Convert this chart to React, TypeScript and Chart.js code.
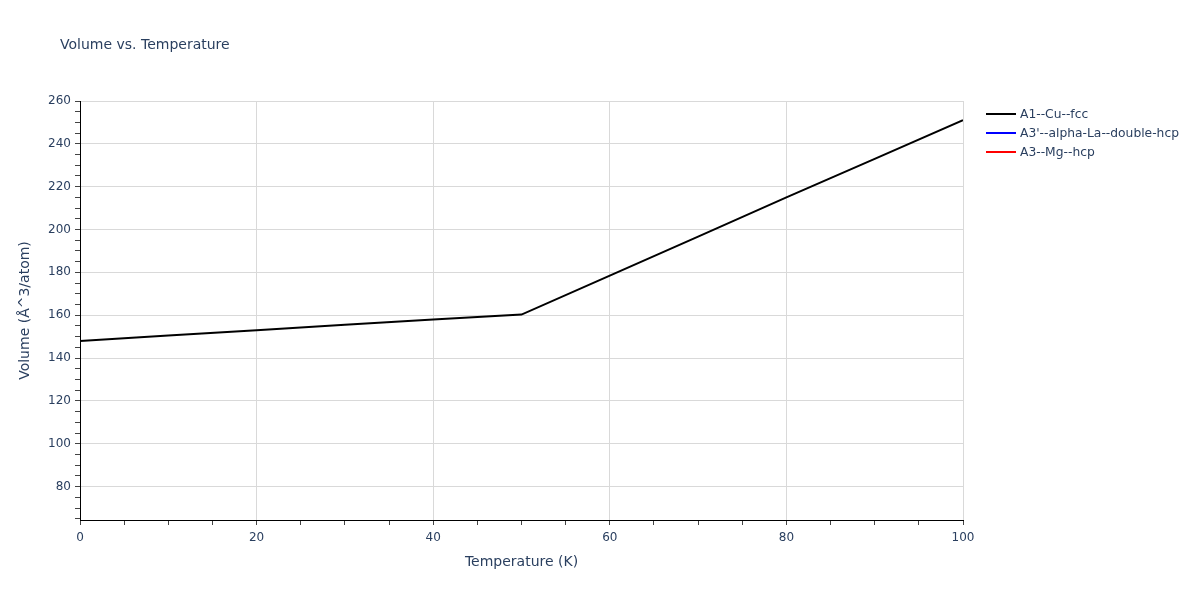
import { useEffect, useRef } from 'react';
import { Chart, registerables, type Scale } from 'chart.js';

Chart.register(...registerables);

// ── Data ─────────────────────────────────────────────────────────────────────

const temperatures = [0, 10, 20, 30, 40, 50, 60, 70, 80, 90, 100];
const cuFcc = [148.0, 150.5, 153.0, 155.5, 158.0, 160.3, 178.5, 196.7, 215.0, 233.0, 251.0];
const laDhcp: number[] = [];
const mgHcp: number[] = [];

const seriesNames = ['A1--Cu--fcc', "A3'--alpha-La--double-hcp", 'A3--Mg--hcp'];
const seriesColors = ['#000000', '#0000ff', '#ff0000'];
const seriesValues = [cuFcc, laDhcp, mgHcp];

const FONT = '"DejaVu Sans", Verdana, sans-serif';
const TEXT = '#2a3f5f';
const GRID = '#d9d9d9';

export default function App() {
  const canvasRef = useRef<HTMLCanvasElement>(null);

  useEffect(() => {
    document.body.style.margin = '0';
    if (!canvasRef.current) return;

    // ticks every 5, only multiples of 20 get a label and a gridline
    const stepTicks = (scale: Scale, from: number, to: number) => {
      const ticks = [];
      for (let v = from; v <= to; v += 5) ticks.push({ value: v });
      scale.ticks = ticks;
    };

    const chart = new Chart(canvasRef.current, {
      type: 'line',
      data: {
        datasets: seriesNames.map((name, i) => ({
          label: name,
          data: seriesValues[i].map((v, j) => ({ x: temperatures[j], y: v })),
          borderColor: seriesColors[i],
          backgroundColor: seriesColors[i],
          borderWidth: 2,
          pointRadius: 0,
          tension: 0,
          fill: false,
        })),
      },
      options: {
        responsive: false,
        animation: false,
        layout: { padding: { top: 101, right: 237, left: 0, bottom: 0 } },
        plugins: { legend: { display: false }, tooltip: { enabled: false } },
        scales: {
          x: {
            type: 'linear',
            min: 0,
            max: 100,
            afterBuildTicks: (s: Scale) => stepTicks(s, 0, 100),
            afterFit: (s: Scale) => { s.height = 80; },
            grid: {
              color: (c: any) => (c.tick.value % 20 === 0 ? GRID : 'rgba(0,0,0,0)'),
              tickColor: '#444',
              tickLength: 5,
            },
            border: { display: true, color: '#000', width: 1 },
            ticks: {
              color: TEXT,
              font: { family: FONT, size: 12 },
              padding: 6,
              maxRotation: 0,
              autoSkip: false,
              callback: (v: any) => (Number(v) % 20 === 0 ? String(v) : ''),
            },
            title: {
              display: true,
              text: 'Temperature (K)',
              color: TEXT,
              font: { family: FONT, size: 14 },
              padding: { top: 0, bottom: 29 },
            },
          },
          y: {
            type: 'linear',
            min: 64.4,
            max: 260,
            afterBuildTicks: (s: Scale) => stepTicks(s, 65, 260),
            afterFit: (s: Scale) => { s.width = 80; },
            grid: {
              color: (c: any) => (c.tick.value % 20 === 0 ? GRID : 'rgba(0,0,0,0)'),
              tickColor: '#444',
              tickLength: 5,
            },
            border: { display: true, color: '#000', width: 1 },
            ticks: {
              color: TEXT,
              font: { family: FONT, size: 12 },
              padding: 4,
              autoSkip: false,
              callback: (v: any) => (Number(v) % 20 === 0 ? String(v) : ''),
            },
            title: {
              display: true,
              text: 'Volume (Å^3/atom)',
              color: TEXT,
              font: { family: FONT, size: 14 },
              padding: { top: 17, bottom: 0 },
            },
          },
        },
      },
    });

    return () => chart.destroy();
  }, []);

  return (
    <div style={{ position: 'relative', width: 1200, height: 600, background: '#fff', fontFamily: FONT }}>
      <canvas ref={canvasRef} width={1200} height={600} style={{ position: 'absolute', left: 0, top: 0 }} />
      <div style={{ position: 'absolute', left: 60, top: 36, fontSize: 14, color: TEXT, whiteSpace: 'nowrap' }}>
        Volume vs. Temperature
      </div>
      {seriesNames.map((name, i) => (
        <div key={name} style={{ position: 'absolute', left: 986, top: 104 + i * 19, height: 19, display: 'flex', alignItems: 'center', whiteSpace: 'nowrap' }}>
          <span style={{ display: 'inline-block', width: 30, height: 2, background: seriesColors[i] }} />
          <span style={{ marginLeft: 4, fontSize: 12.3, color: TEXT }}>{name}</span>
        </div>
      ))}
    </div>
  );
}
